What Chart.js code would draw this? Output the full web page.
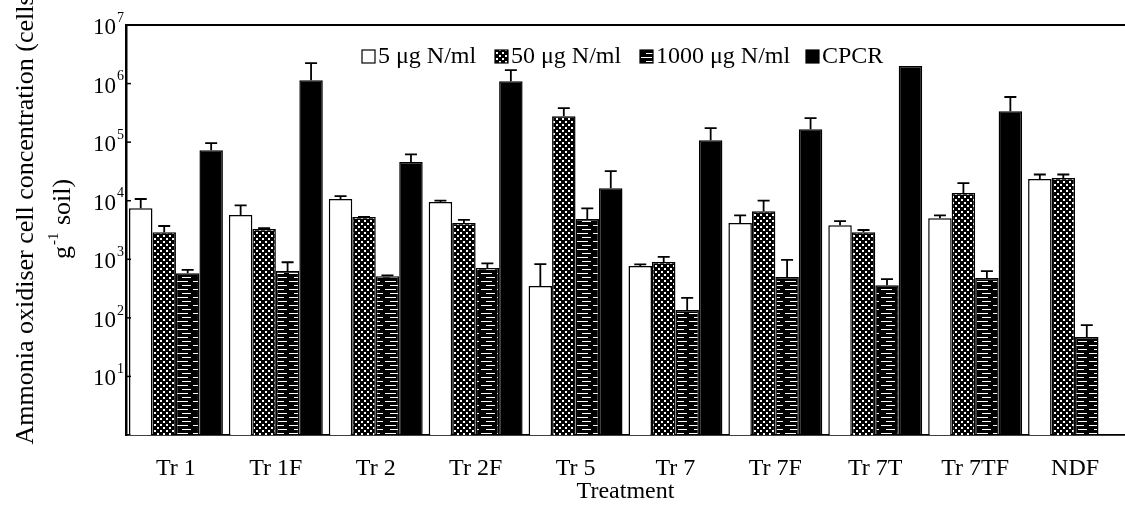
<!DOCTYPE html>
<html>
<head>
<meta charset="utf-8">
<script src="https://cdn.jsdelivr.net/npm/chart.js@4.4.1/dist/chart.umd.min.js"></script>
<style>
  html, body { margin: 0; padding: 0; background: #fff; }
  #wrap { width: 1125px; height: 506px; }
</style>
</head>
<body>
<div id="wrap"><canvas id="chart"></canvas></div>
<script>
const treatments = ["Tr 1", "Tr 1F", "Tr 2", "Tr 2F", "Tr 5", "Tr 7", "Tr 7F", "Tr 7T", "Tr 7TF", "NDF"];
const seriesNames = ["5 μg N/ml", "50 μg N/ml", "1000 μg N/ml", "CPCR"];

// cells per g soil
const n5 = [7400, 5700, 10700, 9500, 350, 770, 4150, 3800, 5000, 23400];
const n50 = [2900, 3300, 5250, 4150, 277000, 900, 6600, 2900, 13500, 24500];
const n1000 = [580, 630, 515, 710, 4870, 136, 500, 360, 480, 47];
const cpcr = [73000, 1140000, 46000, 1100000, 16300, 108000, 166000, 2000000, 338000, null];

// top of each error bar
const n5Top = [10700, 8300, 12000, 10000, 830, 820, 5600, 4470, 5600, 28000];
const n50Top = [3700, 3400, 5300, 4700, 380000, 1100, 10000, 3160, 20000, 28000];
const n1000Top = [660, 890, 530, 850, 7400, 220, 980, 457, 630, 75];
const cpcrTop = [96000, 2240000, 62000, 1700000, 32000, 174000, 257000, null, 590000, null];

const yTicks = [1, 10, 100, 1000, 10000, 100000, 1000000, 10000000];

const serif = "'Liberation Serif', 'DejaVu Serif', serif";

function makePattern(kind) {
  const c = document.createElement("canvas");
  const g = c.getContext("2d");
  if (kind === "checker") {
    c.width = 6; c.height = 6;
    g.fillStyle = "#000";
    g.fillRect(0, 0, 6, 6);
    g.fillStyle = "#fff";
    g.fillRect(1, 1, 2, 2);
    g.fillRect(4, 4, 2, 2);
  } else {
    c.width = 16; c.height = 8;
    g.fillStyle = "#000";
    g.fillRect(0, 0, 16, 8);
    g.fillStyle = "#fff";
    g.fillRect(1, 1, 11, 1);
    g.fillRect(6, 5, 9, 1);
  }
  return g.createPattern(c, "repeat");
}

const ctx = document.getElementById("chart").getContext("2d");
const fills = ["#ffffff", makePattern("checker"), makePattern("stripes"), "#000000"];
const values = [n5, n50, n1000, cpcr];
const errTops = [n5Top, n50Top, n1000Top, cpcrTop];

const decor = {
  id: "decor",
  afterDatasetsDraw(chart) {
    const c = chart.ctx;
    const y = chart.scales.y;
    c.save();
    c.strokeStyle = "#000";
    c.lineWidth = 1.8;
    chart.data.datasets.forEach((ds, i) => {
      const meta = chart.getDatasetMeta(i);
      meta.data.forEach((bar, j) => {
        const top = errTops[i][j];
        if (top == null || ds.data[j] == null) return;
        const yt = y.getPixelForValue(top);
        c.beginPath();
        c.moveTo(bar.x, bar.y);
        c.lineTo(bar.x, yt);
        c.moveTo(bar.x - 6, yt);
        c.lineTo(bar.x + 6, yt);
        c.stroke();
      });
    });
    c.restore();
  },
  afterDraw(chart) {
    const c = chart.ctx;
    const area = chart.chartArea;
    const y = chart.scales.y;
    c.save();
    c.strokeStyle = "#000";
    c.fillStyle = "#000";

    // frame line along the top
    c.lineWidth = 1.8;
    c.beginPath();
    c.moveTo(area.left, area.top);
    c.lineTo(area.right, area.top);
    c.stroke();

    // y ticks as 10^n
    yTicks.slice(1).forEach((v) => {
      const py = y.getPixelForValue(v);
      c.lineWidth = 1.5;
      c.beginPath();
      c.moveTo(area.left, py);
      c.lineTo(area.left + 5, py);
      c.stroke();
      c.font = "23px " + serif;
      c.textAlign = "right";
      c.textBaseline = "middle";
      c.fillText("10", area.left - 10, py + 3);
      c.font = "14px " + serif;
      c.textAlign = "left";
      c.fillText(String(Math.round(Math.log10(v))), area.left - 9, py - 7);
    });

    // y title, two lines rotated
    c.save();
    c.translate(26, 220);
    c.rotate(-Math.PI / 2);
    c.font = "26px " + serif;
    c.textAlign = "center";
    c.textBaseline = "middle";
    c.fillText("Ammonia oxidiser cell concentration (cells", 0, 0);
    const wg = c.measureText("g").width;
    const ws = c.measureText(" soil)").width;
    c.font = "15px " + serif;
    const we = c.measureText("-1").width;
    const x0 = -(wg + we + ws) / 2;
    c.textAlign = "left";
    c.font = "26px " + serif;
    c.fillText("g", x0, 37);
    c.font = "15px " + serif;
    c.fillText("-1", x0 + wg + 1, 28);
    c.font = "26px " + serif;
    c.fillText(" soil)", x0 + wg + we + 2, 37);
    c.restore();

    // legend inside the plot
    const legendX = [362, 495, 640, 806];
    c.font = "24px " + serif;
    c.textAlign = "left";
    c.textBaseline = "middle";
    chart.data.datasets.forEach((ds, i) => {
      const bx = legendX[i];
      c.fillStyle = ds.backgroundColor;
      c.fillRect(bx, 50, 13, 13);
      c.lineWidth = 1.2;
      c.strokeRect(bx, 50, 13, 13);
      c.fillStyle = "#000";
      c.fillText(ds.label, bx + 16, 57);
    });
    c.restore();
  },
};

new Chart(ctx, {
  type: "bar",
  data: {
    labels: treatments,
    datasets: seriesNames.map((name, i) => ({
      label: name,
      data: values[i],
      backgroundColor: fills[i],
      borderColor: "#000",
      borderWidth: 1.5,
      barPercentage: 1,
      categoryPercentage: 0.94,
    })),
  },
  options: {
    responsive: true,
    maintainAspectRatio: false,
    animation: false,
    layout: { padding: { top: 25, right: 0, left: 0, bottom: 0 } },
    plugins: {
      legend: { display: false },
      tooltip: { enabled: false },
    },
    scales: {
      x: {
        grid: { display: false, drawTicks: false },
        border: { display: true, color: "#000", width: 1.8 },
        ticks: {
          color: "#000",
          font: { family: serif, size: 24 },
          padding: 19,
          maxRotation: 0,
          autoSkip: false,
        },
        title: {
          display: true,
          text: "Treatment",
          color: "#000",
          font: { family: serif, size: 24 },
          padding: 0,
        },
        afterFit: (s) => { s.height = 71; },
      },
      y: {
        type: "logarithmic",
        min: 1,
        max: 10000000,
        afterBuildTicks: (s) => { s.ticks = yTicks.map((v) => ({ value: v })); },
        ticks: { display: false },
        grid: { display: false, drawTicks: false },
        border: { display: true, color: "#000", width: 2.5 },
        afterFit: (s) => { s.width = 126; },
      },
    },
  },
  plugins: [decor],
});
</script>
</body>
</html>
